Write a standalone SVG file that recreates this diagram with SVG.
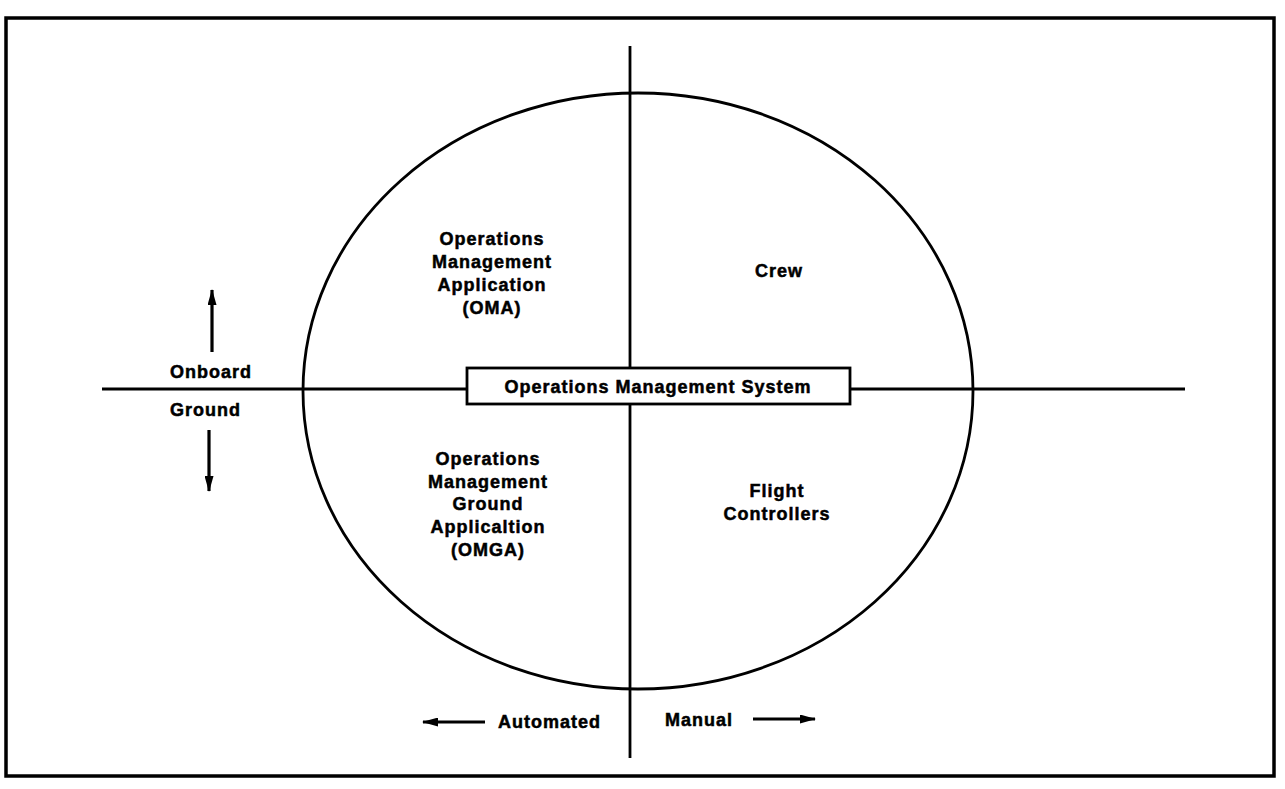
<svg xmlns="http://www.w3.org/2000/svg" width="1285" height="789" viewBox="0 0 1285 789">
<defs>
<style>
.ln{stroke:#000;stroke-width:2.8;fill:none}
.ar{stroke:#000;stroke-width:3.2;fill:none}
.t{font-family:"Liberation Sans",Arial,sans-serif;font-weight:bold;font-size:18px;letter-spacing:1px;fill:#000;stroke:#000;stroke-width:0.5}
.c{text-anchor:middle}
</style>
<marker id="ah" viewBox="0 0 16 9" refX="15" refY="4.5" markerWidth="16" markerHeight="9" markerUnits="userSpaceOnUse" orient="auto">
<path d="M0,0 L16,4.5 L0,9 Z" fill="#000"/>
</marker>
</defs>
<rect width="1285" height="789" fill="#fff"/>
<rect x="6" y="18" width="1268" height="758" fill="none" stroke="#000" stroke-width="3.5"/>
<g id="connectors">
<ellipse cx="638" cy="391" rx="335" ry="298" class="ln" stroke-width="3.2"/>
<line x1="630" y1="46" x2="630" y2="758" class="ln"/>
<line x1="102" y1="389" x2="1185" y2="389" class="ln"/>
<line x1="212" y1="352" x2="212" y2="290" class="ar" marker-end="url(#ah)"/>
<line x1="209" y1="430" x2="209" y2="491" class="ar" marker-end="url(#ah)"/>
<line x1="485" y1="722" x2="423" y2="722" class="ar" marker-end="url(#ah)"/>
<line x1="753" y1="719" x2="815" y2="719" class="ar" marker-end="url(#ah)"/>
</g>
<g id="oms">
<rect x="467" y="368" width="383" height="36" fill="#fff" stroke="#000" stroke-width="2.8"/>
<text class="t c" x="658" y="393">Operations Management System</text>
</g>
<g id="oma">
<text class="t c" x="492" y="245">Operations</text>
<text class="t c" x="492" y="268">Management</text>
<text class="t c" x="492" y="291">Application</text>
<text class="t c" x="492" y="314">(OMA)</text>
</g>
<g id="crew">
<text class="t c" x="779" y="277">Crew</text>
</g>
<g id="omga">
<text class="t c" x="488" y="465">Operations</text>
<text class="t c" x="488" y="488">Management</text>
<text class="t c" x="488" y="510">Ground</text>
<text class="t c" x="488" y="533">Applicaltion</text>
<text class="t c" x="488" y="556">(OMGA)</text>
</g>
<g id="flight">
<text class="t c" x="777" y="497">Flight</text>
<text class="t c" x="777" y="520">Controllers</text>
</g>
<g id="labels">
<text class="t" x="170" y="378">Onboard</text>
<text class="t" x="170" y="416">Ground</text>
<text class="t" x="498" y="728">Automated</text>
<text class="t" x="665" y="726">Manual</text>
</g>
</svg>
